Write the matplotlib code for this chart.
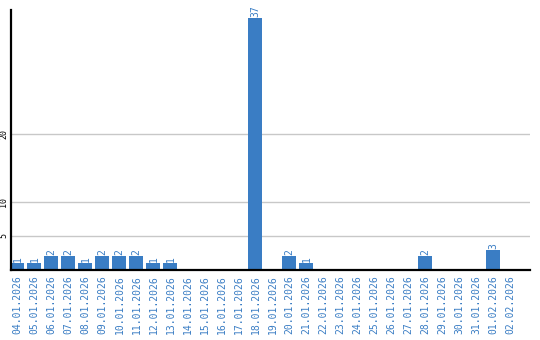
import matplotlib
matplotlib.use("Agg")
import matplotlib.pyplot as plt

dates = ["04.01.2026", "05.01.2026", "06.01.2026", "07.01.2026", "08.01.2026",
         "09.01.2026", "10.01.2026", "11.01.2026", "12.01.2026", "13.01.2026",
         "14.01.2026", "15.01.2026", "16.01.2026", "17.01.2026", "18.01.2026",
         "19.01.2026", "20.01.2026", "21.01.2026", "22.01.2026", "23.01.2026",
         "24.01.2026", "25.01.2026", "26.01.2026", "27.01.2026", "28.01.2026",
         "29.01.2026", "30.01.2026", "31.01.2026", "01.02.2026", "02.02.2026"]
counts = [1, 1, 2, 2, 1, 2, 2, 2, 1, 1,
          0, 0, 0, 0, 37, 0, 2, 1, 0, 0,
          0, 0, 0, 0, 2, 0, 0, 0, 3, 0]
yticks = [5, 10, 20]

blue = "#3a7dc4"
fig = plt.figure(figsize=(5.4, 3.4), dpi=100)
ax = fig.add_axes([11/540, 70/340, 519/540, 260/340])

x = list(range(len(dates)))
ax.bar(x, counts, width=0.82, color=blue, zorder=2)
for xi, c in zip(x, counts):
    if c > 0:
        ax.text(xi, c + 0.15, str(c), rotation=90, ha="center", va="bottom",
                color=blue, fontsize=7, family="DejaVu Sans Mono")

ax.set_xlim(-0.38, 30.15)
ax.set_ylim(0, 38.2)
ax.set_yticks(yticks)
ax.set_yticklabels([str(t) for t in yticks], rotation=90, va="center",
                   fontsize=6, family="DejaVu Sans Mono")
ax.yaxis.grid(True, color="#c8c8c8", linewidth=1, zorder=0)
ax.set_axisbelow(True)
ax.set_xticks(x)
ax.set_xticklabels(dates, rotation=90, fontsize=7, color=blue,
                   family="DejaVu Sans Mono")
ax.tick_params(length=0, pad=4)
ax.tick_params(axis="y", pad=2)
for s in ["top", "right"]:
    ax.spines[s].set_visible(False)
ax.spines["left"].set_linewidth(1.6)
ax.spines["bottom"].set_linewidth(1.6)

fig.savefig("out.png", dpi=100)
